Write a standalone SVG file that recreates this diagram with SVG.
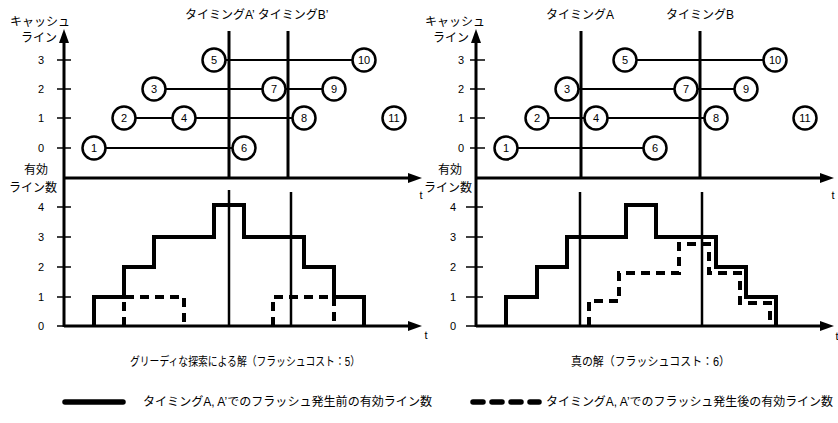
<svg xmlns="http://www.w3.org/2000/svg" width="838" height="423" viewBox="0 0 838 423">
<defs>
<style>
text{font-family:"Liberation Sans","Noto Sans CJK JP",sans-serif;fill:#000}
.lb{font-size:12px}
.tk{font-size:11px;text-anchor:middle}
.nd circle{fill:#fff;stroke:#000;stroke-width:2.5}
.nd text{font-size:11px;text-anchor:middle;fill:#000}
.ax{stroke:#000;stroke-width:3;fill:none}
.tick{stroke:#000;stroke-width:1.5}
.tm{stroke:#000;stroke-width:3}
.tmb{stroke:#000;stroke-width:2.5}
.cn line{stroke:#000;stroke-width:2}
.step{stroke:#000;stroke-width:4;fill:none}
.dash{stroke:#000;stroke-width:4;fill:none;stroke-dasharray:9,6}
</style>
<g id="axes">
<line class="ax" x1="64" y1="40" x2="64" y2="327"/>
<polygon points="64,29 59,43 69,43"/>
<line class="ax" x1="64" y1="178" x2="410" y2="178"/>
<polygon points="422,178 408,173 408,183"/>
<line class="ax" x1="64" y1="326" x2="410" y2="326"/>
<polygon points="422,326 408,321 408,331"/>
</g>
</defs>

<!-- LEFT PANEL -->
<g id="left-panel">
<use href="#axes"/>
<g id="left-ticks">
<line class="tick" x1="57" y1="60" x2="71" y2="60"/>
<line class="tick" x1="57" y1="89" x2="71" y2="89"/>
<line class="tick" x1="57" y1="118" x2="71" y2="118"/>
<line class="tick" x1="57" y1="148" x2="71" y2="148"/>
<line class="tick" x1="57" y1="207" x2="71" y2="207"/>
<line class="tick" x1="57" y1="237" x2="71" y2="237"/>
<line class="tick" x1="57" y1="267" x2="71" y2="267"/>
<line class="tick" x1="57" y1="297" x2="71" y2="297"/>
<line class="tick" x1="57" y1="326" x2="64" y2="326"/>
<text class="tk" x="41" y="64">3</text>
<text class="tk" x="41" y="93">2</text>
<text class="tk" x="41" y="122">1</text>
<text class="tk" x="41" y="152">0</text>
<text class="tk" x="41" y="211">4</text>
<text class="tk" x="41" y="241">3</text>
<text class="tk" x="41" y="271">2</text>
<text class="tk" x="41" y="301">1</text>
<text class="tk" x="41" y="330">0</text>
</g>
<text class="lb" x="40" y="26" text-anchor="middle">キャッシュ</text>
<text class="lb" x="39" y="42" text-anchor="middle">ライン</text>
<text class="lb" x="36" y="174" text-anchor="middle">有効</text>
<text class="lb" x="33" y="192" text-anchor="middle">ライン数</text>
<text class="tk" x="421" y="199">t</text>
<text class="tk" x="426" y="339">t</text>
<text class="lb" x="185" y="19">タイミングA’ タイミングB’</text>
<line class="tm" x1="229" y1="31" x2="229" y2="178"/>
<line class="tm" x1="288" y1="31" x2="288" y2="178"/>
<line class="tmb" x1="229" y1="190" x2="229" y2="326"/>
<line class="tmb" x1="291" y1="192" x2="291" y2="326"/>
<path class="step" d="M94,326 V297 H124 V267 H154 V237 H214 V205 H244 V237 H304 V267 H334 V297 H364 V326"/>
<path class="dash" d="M124,326 V297 H184 V326"/>
<path class="dash" d="M273,326 V297 H334 V326"/>
<g class="cn" id="left-connectors">
<line x1="94" y1="148" x2="244" y2="148"/>
<line x1="124" y1="118" x2="184" y2="118"/>
<line x1="184" y1="118" x2="304" y2="118"/>
<line x1="154" y1="89" x2="274" y2="89"/>
<line x1="274" y1="89" x2="334" y2="89"/>
<line x1="214" y1="60" x2="364" y2="60"/>
</g>
<g class="nd" id="L1"><circle cx="94" cy="148" r="11.5"/><text x="94" y="152">1</text></g>
<g class="nd" id="L2"><circle cx="124" cy="118" r="11.5"/><text x="124" y="122">2</text></g>
<g class="nd" id="L3"><circle cx="154" cy="89" r="11.5"/><text x="154" y="93">3</text></g>
<g class="nd" id="L4"><circle cx="184" cy="118" r="11.5"/><text x="184" y="122">4</text></g>
<g class="nd" id="L5"><circle cx="214" cy="60" r="11.5"/><text x="214" y="64">5</text></g>
<g class="nd" id="L6"><circle cx="244" cy="148" r="11.5"/><text x="244" y="152">6</text></g>
<g class="nd" id="L7"><circle cx="274" cy="89" r="11.5"/><text x="274" y="93">7</text></g>
<g class="nd" id="L8"><circle cx="304" cy="118" r="11.5"/><text x="304" y="122">8</text></g>
<g class="nd" id="L9"><circle cx="334" cy="89" r="11.5"/><text x="334" y="93">9</text></g>
<g class="nd" id="L10"><circle cx="364" cy="60" r="11.5"/><text x="364" y="64">10</text></g>
<g class="nd" id="L11"><circle cx="394" cy="118" r="11.5"/><text x="394" y="122">11</text></g>
</g>

<!-- RIGHT PANEL -->
<g id="right-panel" transform="translate(412,0)">
<use href="#axes"/>
<g id="right-ticks">
<line class="tick" x1="58" y1="60" x2="73" y2="60"/>
<line class="tick" x1="58" y1="89" x2="73" y2="89"/>
<line class="tick" x1="58" y1="118" x2="73" y2="118"/>
<line class="tick" x1="58" y1="148" x2="73" y2="148"/>
<line class="tick" x1="54" y1="207" x2="71" y2="207"/>
<line class="tick" x1="54" y1="237" x2="71" y2="237"/>
<line class="tick" x1="54" y1="267" x2="71" y2="267"/>
<line class="tick" x1="54" y1="297" x2="71" y2="297"/>
<line class="tick" x1="54" y1="326" x2="64" y2="326"/>
<text class="tk" x="49" y="64">3</text>
<text class="tk" x="49" y="93">2</text>
<text class="tk" x="49" y="122">1</text>
<text class="tk" x="49" y="152">0</text>
<text class="tk" x="41" y="211">4</text>
<text class="tk" x="41" y="241">3</text>
<text class="tk" x="41" y="271">2</text>
<text class="tk" x="41" y="301">1</text>
<text class="tk" x="41" y="330">0</text>
</g>
<text class="lb" x="43" y="26" text-anchor="middle">キャッシュ</text>
<text class="lb" x="39" y="42" text-anchor="middle">ライン</text>
<text class="lb" x="38" y="174" text-anchor="middle">有効</text>
<text class="lb" x="36" y="192" text-anchor="middle">ライン数</text>
<text class="tk" x="421" y="199">t</text>
<text class="tk" x="425" y="340">t</text>
<text class="lb" x="134" y="19">タイミングA</text>
<text class="lb" x="254" y="19">タイミングB</text>
<line class="tm" x1="169" y1="31" x2="169" y2="178"/>
<line class="tm" x1="288" y1="31" x2="288" y2="178"/>
<line class="tmb" x1="168" y1="192" x2="168" y2="326"/>
<line class="tmb" x1="290" y1="192" x2="290" y2="326"/>
<path class="step" d="M94,326 V297 H125 V267 H155 V237 H214 V205 H244 V237 H304 V267 H334 V297 H364 V326"/>
<path class="dash" d="M177,326 V301 H207 V273 H267 V244 H297 V273 H328 V303 H358 V326"/>
<g class="cn" id="right-connectors">
<line x1="94" y1="148" x2="243" y2="148"/>
<line x1="125" y1="118" x2="184" y2="118"/>
<line x1="184" y1="118" x2="304" y2="118"/>
<line x1="155" y1="89" x2="274" y2="89"/>
<line x1="274" y1="89" x2="334" y2="89"/>
<line x1="213" y1="60" x2="363" y2="60"/>
</g>
<g class="nd" id="R1"><circle cx="94" cy="148" r="11.5"/><text x="94" y="152">1</text></g>
<g class="nd" id="R2"><circle cx="125" cy="118" r="11.5"/><text x="125" y="122">2</text></g>
<g class="nd" id="R3"><circle cx="155" cy="89" r="11.5"/><text x="155" y="93">3</text></g>
<g class="nd" id="R4"><circle cx="184" cy="118" r="11.5"/><text x="184" y="122">4</text></g>
<g class="nd" id="R5"><circle cx="213" cy="60" r="11.5"/><text x="213" y="64">5</text></g>
<g class="nd" id="R6"><circle cx="243" cy="148" r="11.5"/><text x="243" y="152">6</text></g>
<g class="nd" id="R7"><circle cx="274" cy="89" r="11.5"/><text x="274" y="93">7</text></g>
<g class="nd" id="R8"><circle cx="304" cy="118" r="11.5"/><text x="304" y="122">8</text></g>
<g class="nd" id="R9"><circle cx="334" cy="89" r="11.5"/><text x="334" y="93">9</text></g>
<g class="nd" id="R10"><circle cx="363" cy="60" r="11.5"/><text x="363" y="64">10</text></g>
<g class="nd" id="R11"><circle cx="393" cy="118" r="11.5"/><text x="393" y="122">11</text></g>
</g>

<!-- CAPTIONS & LEGEND -->
<g id="captions">
<text class="lb" x="130" y="366" textLength="230" lengthAdjust="spacingAndGlyphs">グリーディな探索による解（フラッシュコスト：5）</text>
<text class="lb" x="571" y="366" textLength="159" lengthAdjust="spacingAndGlyphs">真の解（フラッシュコスト：6）</text>
</g>
<g id="legend">
<line x1="65" y1="402" x2="123" y2="402" stroke="#000" stroke-width="5.5" stroke-linecap="round"/>
<text class="lb" x="143" y="406" textLength="289" lengthAdjust="spacingAndGlyphs">タイミングA, A’でのフラッシュ発生前の有効ライン数</text>
<line x1="473" y1="402" x2="539" y2="402" stroke="#000" stroke-width="5.5" stroke-dasharray="10,9" stroke-linecap="round"/>
<text class="lb" x="546" y="406" textLength="287" lengthAdjust="spacingAndGlyphs">タイミングA, A’でのフラッシュ発生後の有効ライン数</text>
</g>
</svg>
